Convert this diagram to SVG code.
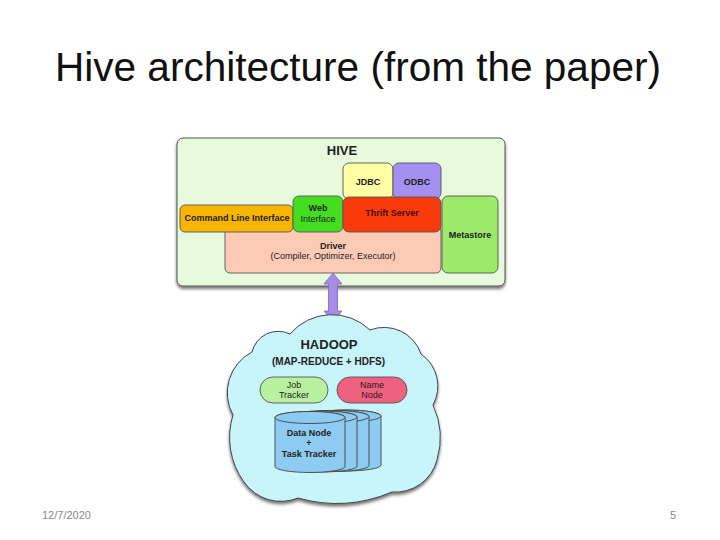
<svg xmlns="http://www.w3.org/2000/svg" width="720" height="540" viewBox="0 0 720 540">
<defs>
<filter id="shadow" x="-10%" y="-10%" width="120%" height="130%">
<feDropShadow dx="0" dy="2.5" stdDeviation="1.5" flood-color="#000" flood-opacity="0.55"/>
</filter>
<style>
.box{stroke:#555;stroke-width:0.9}
.t{font-family:"Liberation Sans",Arial,sans-serif;font-size:9px;fill:#222;text-anchor:middle}
.b{font-weight:bold}
.big{font-size:13px}
.mid{font-size:10px}
.sm{font-size:9px}
.cyl{fill:#8ecbf3;stroke:#444;stroke-width:0.9}
</style>
</defs>
<rect width="720" height="540" fill="#ffffff"/>
<text x="358" y="81" font-family="'Liberation Sans',Arial,sans-serif" font-size="40" fill="#111" text-anchor="middle" textLength="606" lengthAdjust="spacingAndGlyphs">Hive architecture (from the paper)</text>

<g id="hive">
<rect x="177" y="138" width="328" height="148" rx="6" fill="#e8fadc" stroke="#555" stroke-width="1" filter="url(#shadow)"/>
<text class="t b big" x="342" y="155">HIVE</text>
</g>
<g id="jdbc">
<rect class="box" x="343" y="163" width="50" height="36" rx="6" fill="#ffffa6"/>
<text class="t b" x="368" y="185">JDBC</text>
</g>
<g id="odbc">
<rect class="box" x="393" y="163" width="48" height="36" rx="6" fill="#a390f0"/>
<text class="t b" x="417" y="185">ODBC</text>
</g>
<g id="metastore">
<rect class="box" x="442" y="196" width="56" height="77" rx="6" fill="#9de96a"/>
<text class="t b" x="470" y="238">Metastore</text>
</g>
<g id="driver">
<rect class="box" x="225" y="226" width="216" height="47" rx="5" fill="#fdcab5"/>
<text class="t b" x="333" y="249">Driver</text>
<text class="t sm" x="333" y="259">(Compiler, Optimizer, Executor)</text>
</g>
<g id="cli">
<rect class="box" x="180" y="205" width="113" height="27" rx="5" fill="#f7b500"/>
<text class="t b" x="237" y="221">Command Line Interface</text>
</g>
<g id="web">
<rect class="box" x="293" y="196" width="50" height="36" rx="6" fill="#44dd22"/>
<text class="t b" x="318" y="211">Web</text>
<text class="t" x="318" y="222">Interface</text>
</g>
<g id="thrift">
<rect class="box" x="343" y="197" width="98" height="35" rx="6" fill="#f93a0a"/>
<text class="t b" x="392" y="216" style="fill:#4a0a00">Thrift Server</text>
</g>

<g id="connectors">
<polygon points="333,273 342,284 337.5,284 337.5,311 342,311 333,322 324,311 328.5,311 328.5,284 324,284" fill="#a78ce6" stroke="#7c62c6" stroke-width="0.8"/>
</g>

<g id="hadoop">
<path d="M 233 415 A 46 46 0 0 1 252 352 A 27 27 0 0 1 290 334 A 55 55 0 0 1 370 330 A 39 39 0 0 1 421 354 A 39 39 0 0 1 433 405 A 78 78 0 0 1 437 460 A 43 43 0 0 1 392 492 A 142 142 0 0 1 298 498 A 45 45 0 0 1 244 482 A 76 76 0 0 1 233 415 Z" fill="#c8f5fa" stroke="#444" stroke-width="1" filter="url(#shadow)"/>
<text class="t b big" x="329" y="349">HADOOP</text>
<text class="t b mid" x="328.5" y="365">(MAP-REDUCE + HDFS)</text>
</g>
<g id="jobtracker">
<rect class="box" x="260" y="377" width="68" height="26" rx="13" fill="#b9f0a0"/>
<text class="t" x="294" y="388">Job</text>
<text class="t" x="294" y="398">Tracker</text>
</g>
<g id="namenode">
<rect class="box" x="337" y="377" width="70" height="26" rx="13" fill="#f0607f"/>
<text class="t" x="372" y="388">Name</text>
<text class="t" x="372" y="398">Node</text>
</g>
<g id="datanode">
<path class="cyl" d="M 311 416 L 311 465 A 35 6 0 0 0 381 465 L 381 416 A 35 6 0 0 0 311 416 Z"/>
<ellipse class="cyl" cx="346" cy="416" rx="35" ry="6"/>
<path class="cyl" d="M 299 416.5 L 299 465.5 A 35 6 0 0 0 369 465.5 L 369 416.5 A 35 6 0 0 0 299 416.5 Z"/>
<ellipse class="cyl" cx="334" cy="416.5" rx="35" ry="6"/>
<path class="cyl" d="M 287 417 L 287 466 A 35 6 0 0 0 357 466 L 357 417 A 35 6 0 0 0 287 417 Z"/>
<ellipse class="cyl" cx="322" cy="417" rx="35" ry="6"/>
<path class="cyl" d="M 275 417.5 L 275 466.5 A 35 6 0 0 0 345 466.5 L 345 417.5 A 35 6 0 0 0 275 417.5 Z"/>
<ellipse class="cyl" cx="310" cy="417.5" rx="35" ry="6"/>
<text class="t b" x="309" y="436">Data Node</text>
<text class="t b" x="309" y="446">+</text>
<text class="t b" x="309" y="457">Task Tracker</text>
</g>

<text x="42" y="519" font-family="'Liberation Sans',Arial,sans-serif" font-size="11" fill="#8a8a8a">12/7/2020</text>
<text x="676" y="519" font-family="'Liberation Sans',Arial,sans-serif" font-size="11" fill="#8a8a8a" text-anchor="end">5</text>
</svg>
